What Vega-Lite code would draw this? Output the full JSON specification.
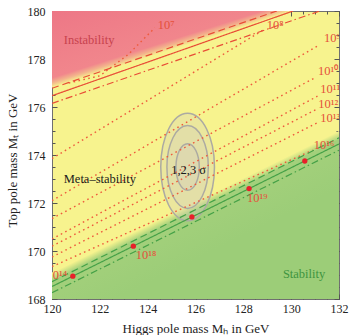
{
"$schema":"https://vega.github.io/schema/vega-lite/v6.json",
"width":287,"height":288,
"autosize":{"type":"none"},
"padding":{"left":52,"top":11,"right":10,"bottom":36},
"background":"#ffffff",
"config":{
 "view":{"fill":"#f7f38e","stroke":"#707070","strokeWidth":1},
 "axis":{"domain":false,"grid":false,"tickColor":"#555555","tickWidth":1,"labelFont":"Liberation Serif","labelFontSize":12,"labelColor":"#222222","titleFont":"Liberation Serif","titleFontSize":13,"titleFontWeight":"normal","titleColor":"#222222","labelFlush":false,"labelOverlap":false},
 "text":{"font":"Liberation Serif"}
},
"datasets":{
 "regions":[
  {"region":"instability","Mh":120,"lo":176.8,"hi":180},
  {"region":"instability","Mh":130.1,"lo":180,"hi":180},
  {"region":"stability","Mh":120,"lo":168,"hi":169.1},
  {"region":"stability","Mh":132,"lo":168,"hi":175.0}
 ],
 "bounds":[
  {"side":"red","kind":"central","Mh":120,"Mt":176.47},{"side":"red","kind":"central","Mh":130.08,"Mt":180},
  {"side":"red","kind":"upper","Mh":120,"Mt":176.78},{"side":"red","kind":"upper","Mh":129.4,"Mt":180},
  {"side":"red","kind":"lower","Mh":120,"Mt":176.15},{"side":"red","kind":"lower","Mh":131.2,"Mt":180},
  {"side":"green","kind":"central","Mh":120,"Mt":168.52},{"side":"green","kind":"central","Mh":132,"Mt":174.46},
  {"side":"green","kind":"upper","Mh":120,"Mt":168.72},{"side":"green","kind":"upper","Mh":132,"Mt":174.72},
  {"side":"green","kind":"lower","Mh":120,"Mt":168.26},{"side":"green","kind":"lower","Mh":132,"Mt":174.2}
 ],
 "contours":[
  {"lambda":"7","Mh":120.7,"Mt":177.0},{"lambda":"7","Mh":122.0,"Mt":177.3},{"lambda":"7","Mh":123.2,"Mt":178.2},{"lambda":"7","Mh":124.3,"Mt":179.3},
  {"lambda":"8","Mh":120,"Mt":173.85},{"lambda":"8","Mh":128.9,"Mt":179.25},
  {"lambda":"9","Mh":120,"Mt":172.1},{"lambda":"9","Mh":131.2,"Mt":178.6},
  {"lambda":"10","Mh":120,"Mt":171.35},{"lambda":"10","Mh":131.05,"Mt":177.25},
  {"lambda":"11","Mh":120,"Mt":170.5},{"lambda":"11","Mh":131.1,"Mt":176.45},
  {"lambda":"12","Mh":120,"Mt":170.2},{"lambda":"12","Mh":131.05,"Mt":175.9},
  {"lambda":"13","Mh":120,"Mt":169.75},{"lambda":"13","Mh":131.1,"Mt":175.35},
  {"lambda":"16","Mh":120,"Mt":169.35},{"lambda":"16","Mh":130.9,"Mt":174.2}
 ],
 "ellipses":[
  {"sigma":3,"Mh":125.67,"Mt":173.5},
  {"sigma":2,"Mh":125.67,"Mt":173.5},
  {"sigma":1,"Mh":125.67,"Mt":173.5}
 ],
 "dots":[
  {"Mh":120.87,"Mt":168.95},{"Mh":123.4,"Mt":170.2},{"Mh":125.85,"Mt":171.42},{"Mh":128.24,"Mt":172.6},{"Mh":130.57,"Mt":173.75}
 ],
 "labels":[
  {"kind":"exp","text":"10⁷","Mh":124.77,"Mt":179.42},
  {"kind":"exp","text":"10⁸","Mh":129.33,"Mt":179.42},
  {"kind":"exp","text":"10⁹","Mh":131.72,"Mt":178.88},
  {"kind":"exp","text":"10¹⁰","Mh":131.55,"Mt":177.5},
  {"kind":"exp","text":"10¹¹","Mh":131.63,"Mt":176.76},
  {"kind":"exp","text":"10¹²","Mh":131.55,"Mt":176.14},
  {"kind":"exp","text":"10¹³","Mh":131.63,"Mt":175.54},
  {"kind":"exp","text":"10¹⁶","Mh":131.38,"Mt":174.42},
  {"kind":"exp","text":"10¹⁹","Mh":128.58,"Mt":172.2},
  {"kind":"exp","text":"10¹⁸","Mh":123.93,"Mt":169.83},
  {"kind":"exp","text":"10¹⁴","Mh":120.2,"Mt":169.0},
  {"kind":"instab","text":"Instability","Mh":121.55,"Mt":178.8},
  {"kind":"meta","text":"Meta–stability","Mh":122.0,"Mt":173.0},
  {"kind":"stab","text":"Stability","Mh":130.54,"Mt":169.04},
  {"kind":"sigma","text":"1,2,3 σ","Mh":125.71,"Mt":173.37}
 ]
},
"resolve":{"axis":{"x":"independent","y":"independent"}},
"layer":[
 {"data":{"name":"regions"},"transform":[{"filter":"datum.region === 'instability'"}],
  "mark":{"type":"area","clip":true,"color":{"gradient":"linear","x1":0,"y1":0,"x2":1,"y2":1,"stops":[{"offset":0,"color":"#ed7786"},{"offset":0.435,"color":"#f1868c"},{"offset":0.468,"color":"#f3b48c"},{"offset":0.5,"color":"#f7f38e"}]}},
  "encoding":{
   "x":{"field":"Mh","type":"quantitative","scale":{"domain":[120,132],"nice":false,"zero":false},
        "axis":{"orient":"bottom","values":[120,122,124,126,128,130,132],"tickSize":-5,"labelPadding":9,"title":"Higgs pole mass Mₕ in GeV","titleX":143.5,"titleY":33,"titleBaseline":"alphabetic","titleAlign":"center"}},
   "y":{"field":"lo","type":"quantitative","scale":{"domain":[168,180],"nice":false,"zero":false},
        "axis":{"orient":"left","values":[168,170,172,174,176,178,180],"tickSize":-5,"labelPadding":12,"title":"Top pole mass Mₜ in GeV","titleX":-40,"titleY":149,"titleAngle":-90,"titleAlign":"center","titleBaseline":"middle"}},
   "y2":{"field":"hi"}
  }},
 {"data":{"name":"regions"},"transform":[{"filter":"datum.region === 'stability'"}],
  "mark":{"type":"area","clip":true,"color":{"gradient":"linear","x1":0,"y1":0.843,"x2":0.1686,"y2":1.043,"stops":[{"offset":0,"color":"#f7f38e"},{"offset":0.15,"color":"#a3d07b"},{"offset":1,"color":"#9ccd78"}]}},
  "encoding":{
   "x":{"field":"Mh","type":"quantitative","scale":{"domain":[120,132],"nice":false,"zero":false},
        "axis":{"orient":"top","values":[120,122,124,126,128,130,132],"tickSize":-5,"labels":false,"title":null}},
   "y":{"field":"lo","type":"quantitative","scale":{"domain":[168,180],"nice":false,"zero":false},
        "axis":{"orient":"right","values":[168,170,172,174,176,178,180],"tickSize":-5,"labels":false,"title":null}},
   "y2":{"field":"hi"}
  }},
 {"data":{"name":"ellipses"},
  "mark":{"type":"point","shape":"M0,-1C0.276,-1,0.5,-0.552,0.5,0C0.5,0.552,0.276,1,0,1C-0.276,1,-0.5,0.552,-0.5,0C-0.5,-0.552,-0.276,-1,0,-1Z","filled":true,"fill":"#d2cebe","fillOpacity":0.32,"stroke":"#acaaa2","strokeWidth":1.5,"strokeOpacity":1,"opacity":1},
  "encoding":{
   "x":{"field":"Mh","type":"quantitative","scale":{"domain":[120,132],"nice":false,"zero":false},
        "axis":{"orient":"bottom","values":[120,120.5,121,121.5,122,122.5,123,123.5,124,124.5,125,125.5,126,126.5,127,127.5,128,128.5,129,129.5,130,130.5,131,131.5,132],"tickSize":-3,"labels":false,"title":null}},
   "y":{"field":"Mt","type":"quantitative","scale":{"domain":[168,180],"nice":false,"zero":false},
        "axis":{"orient":"left","values":[168,168.5,169,169.5,170,170.5,171,171.5,172,172.5,173,173.5,174,174.5,175,175.5,176,176.5,177,177.5,178,178.5,179,179.5,180],"tickSize":-3,"labels":false,"title":null}},
   "size":{"field":"sigma","type":"quantitative","scale":{"domain":[1,3],"range":[2172,11535]},"legend":null}
  }},
 {"data":{"name":"contours"},
  "mark":{"type":"line","clip":true,"color":"#ee5a3c","strokeWidth":1.4,"strokeDash":[1.6,3.4],"strokeCap":"butt"},
  "encoding":{
   "x":{"field":"Mh","type":"quantitative","scale":{"domain":[120,132],"nice":false,"zero":false},
        "axis":{"orient":"top","values":[120,120.5,121,121.5,122,122.5,123,123.5,124,124.5,125,125.5,126,126.5,127,127.5,128,128.5,129,129.5,130,130.5,131,131.5,132],"tickSize":-3,"labels":false,"title":null}},
   "y":{"field":"Mt","type":"quantitative","scale":{"domain":[168,180],"nice":false,"zero":false},
        "axis":{"orient":"right","values":[168,168.5,169,169.5,170,170.5,171,171.5,172,172.5,173,173.5,174,174.5,175,175.5,176,176.5,177,177.5,178,178.5,179,179.5,180],"tickSize":-3,"labels":false,"title":null}},
   "detail":{"field":"lambda"}
  }},
 {"data":{"name":"bounds"},"transform":[{"filter":"datum.side === 'red'"}],
  "mark":{"type":"line","clip":true,"color":"#e84c36","strokeWidth":1.2},
  "encoding":{
   "x":{"field":"Mh","type":"quantitative","scale":{"domain":[120,132],"nice":false,"zero":false},"axis":null},
   "y":{"field":"Mt","type":"quantitative","scale":{"domain":[168,180],"nice":false,"zero":false},"axis":null},
   "detail":{"field":"kind"},
   "strokeDash":{"field":"kind","type":"nominal","scale":{"domain":["central","upper","lower"],"range":[[1,0],[7,4],[7,3,1.5,3]]},"legend":null}
  }},
 {"data":{"name":"bounds"},"transform":[{"filter":"datum.side === 'green'"}],
  "mark":{"type":"line","clip":true,"color":"#45a147","strokeWidth":1.2},
  "encoding":{
   "x":{"field":"Mh","type":"quantitative","scale":{"domain":[120,132],"nice":false,"zero":false},"axis":null},
   "y":{"field":"Mt","type":"quantitative","scale":{"domain":[168,180],"nice":false,"zero":false},"axis":null},
   "detail":{"field":"kind"},
   "strokeDash":{"field":"kind","type":"nominal","scale":{"domain":["central","upper","lower"],"range":[[1,0],[7,4],[7,3,1.5,3]]},"legend":null}
  }},
 {"data":{"name":"dots"},
  "mark":{"type":"point","filled":true,"color":"#e8202a","size":28,"opacity":1},
  "encoding":{
   "x":{"field":"Mh","type":"quantitative","scale":{"domain":[120,132],"nice":false,"zero":false},"axis":null},
   "y":{"field":"Mt","type":"quantitative","scale":{"domain":[168,180],"nice":false,"zero":false},"axis":null}
  }},
 {"data":{"name":"labels"},"transform":[{"filter":"datum.kind === 'exp'"}],
  "mark":{"type":"text","clip":true,"font":"Liberation Serif","fontSize":12.5,"align":"center","baseline":"middle","color":"#e5503a"},
  "encoding":{
   "x":{"field":"Mh","type":"quantitative","scale":{"domain":[120,132],"nice":false,"zero":false},"axis":null},
   "y":{"field":"Mt","type":"quantitative","scale":{"domain":[168,180],"nice":false,"zero":false},"axis":null},
   "text":{"field":"text"}
  }},
 {"data":{"name":"labels"},"transform":[{"filter":"datum.kind !== 'exp'"}],
  "mark":{"type":"text","clip":true,"font":"Liberation Serif","fontSize":12.5,"align":"center","baseline":"middle"},
  "encoding":{
   "x":{"field":"Mh","type":"quantitative","scale":{"domain":[120,132],"nice":false,"zero":false},"axis":null},
   "y":{"field":"Mt","type":"quantitative","scale":{"domain":[168,180],"nice":false,"zero":false},"axis":null},
   "text":{"field":"text"},
   "color":{"field":"kind","type":"nominal","scale":{"domain":["instab","meta","stab","sigma"],"range":["#c8424e","#1a1a1a","#3e9440","#1a1a1a"]},"legend":null}
  }}
]
}
